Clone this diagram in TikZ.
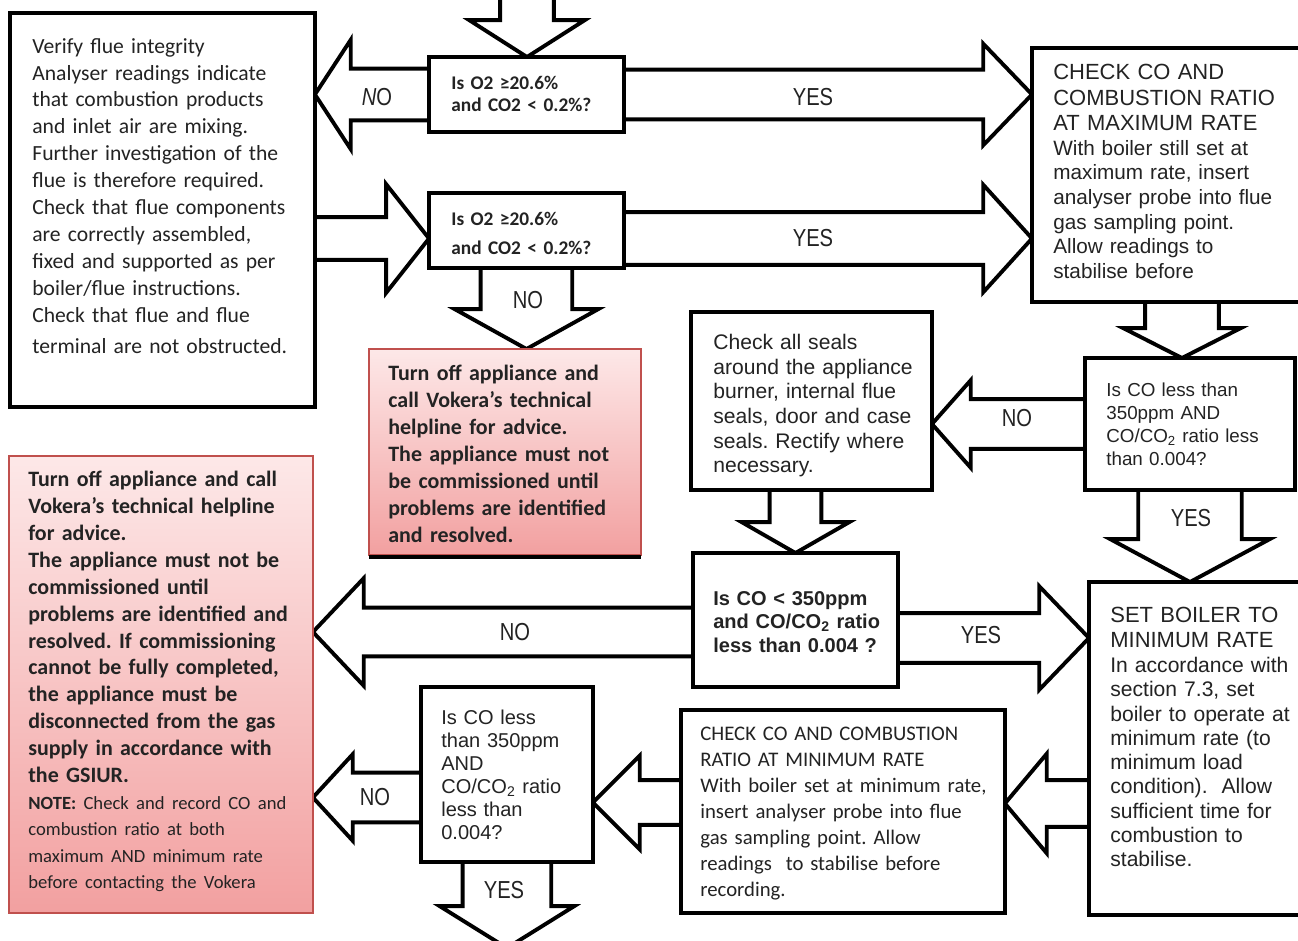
\documentclass[tikz,border=0pt]{standalone}
\usepackage{fontspec}
\setmainfont{Carlito}
\newfontfamily\arialf{Liberation Sans}
\newfontfamily\narrowf[FakeStretch=0.82]{Liberation Sans}
\usetikzlibrary{calc, backgrounds}
\definecolor{boxred}{RGB}{192,80,77}
\definecolor{pinktop}{RGB}{253,232,232}
\definecolor{pinkbot}{RGB}{242,160,160}
\definecolor{ink}{RGB}{35,35,35}
\frenchspacing

\newcommand{\pxl}{0.5669pt}

% block arrows: start, tip, shaft half width, head half width, head length (px)
\newcommand{\hblock}[5]{%
  \filldraw[blockarrow] let \p1=#1, \p2=#2, \n1={2*(\x2>\x1)-1},
      \p3=({\x2-(\n1)*#5*\pxl},\y1) in
    (\x1,{\y1+#3*\pxl}) -- (\x3,{\y1+#3*\pxl}) -- (\x3,{\y1+#4*\pxl}) -- (\x2,\y1)
    -- (\x3,{\y1-#4*\pxl}) -- (\x3,{\y1-#3*\pxl}) -- (\x1,{\y1-#3*\pxl});}
\newcommand{\vblock}[5]{%
  \filldraw[blockarrow] let \p1=#1, \p2=#2, \n1={2*(\y2>\y1)-1},
      \p3=(\x1,{\y2-(\n1)*#5*\pxl}) in
    ({\x1+#3*\pxl},\y1) -- ({\x1+#3*\pxl},\y3) -- ({\x1+#4*\pxl},\y3) -- (\x1,\y2)
    -- ({\x1-#4*\pxl},\y3) -- ({\x1-#3*\pxl},\y3) -- ({\x1-#3*\pxl},\y1);}

\begin{document}
\begin{tikzpicture}[x=0.02cm, y=-0.02cm,
  box/.style={rectangle, draw, line width=2.3pt, fill=white, inner sep=0pt, outer sep=0pt, anchor=north west},
  redbox/.style={rectangle, draw=boxred, line width=0.9pt, top color=pinktop, bottom color=pinkbot,
                 inner sep=0pt, outer sep=0pt, anchor=north west},
  txt/.style={anchor=north west, inner sep=0pt, align=left, text width=7cm, text=ink},
  lbl/.style={font=\narrowf\fontsize{14}{16}\selectfont, inner sep=0pt, text=ink},
  blockarrow/.style={draw, line width=2.2pt, fill=white, line join=miter}
]
\useasboundingbox (0,0) rectangle (1298,940);

\node[box, minimum width=6.1cm, minimum height=7.88cm] (verify) at (10,13) {};
\node[box, minimum width=3.9cm, minimum height=1.5cm] (q1) at (429,57) {};
\node[box, minimum width=3.9cm, minimum height=1.5cm] (q2) at (429,193) {};
\node[box, minimum width=6.0cm, minimum height=5.08cm] (maxb) at (1032,48) {};
\node[redbox, minimum width=5.44cm, minimum height=4.12cm] (red1) at (369,349) {};
\node[box, minimum width=4.82cm, minimum height=3.56cm] (seals) at (691,312) {};
\node[box, minimum width=4.2cm, minimum height=2.64cm] (q3) at (1085,358) {};
\node[box, minimum width=4.1cm, minimum height=2.68cm] (q4) at (693,553) {};
\node[box, minimum width=4.8cm, minimum height=6.66cm] (minb) at (1089,582) {};
\node[redbox, minimum width=6.08cm, minimum height=9.14cm] (red2) at (9,456) {};
\node[box, minimum width=6.48cm, minimum height=4.06cm] (chkmin) at (681,710) {};
\node[box, minimum width=3.44cm, minimum height=3.5cm] (q5) at (421,687) {};
\draw[line width=2.5pt] ([yshift=-1.3pt]red1.south west) -- ([yshift=-1.3pt]red1.south east);

\node[txt, font=\fontsize{12.3}{15.3}\selectfont] (verifyt) at (32,38)
  {Verify flue integrity\\Analyser readings indicate\\that combustion products\\and inlet air are mixing.\\
   Further investigation of the\\flue is therefore required.\\Check that flue components\\
   are correctly assembled,\\fixed and supported as per\\boiler/flue instructions.\\
   Check that flue and flue\\[2.8pt]terminal are not obstructed.};
\node[txt, font=\bfseries\fontsize{11}{12.5}\selectfont] (q1t) at (451,76) {Is O2 ≥20.6\%\\and CO2 < 0.2\%?};
\node[txt, font=\bfseries\fontsize{11}{16.2}\selectfont] (q2t) at (451,212) {Is O2 ≥20.6\%\\and CO2 < 0.2\%?};
\node[txt, font=\arialf\fontsize{12.5}{14.5}\selectfont] (maxh) at (1053,64)
  {CHECK CO AND\\COMBUSTION RATIO\\AT MAXIMUM RATE};
\node[txt, font=\arialf\fontsize{11.8}{14}\selectfont] (maxt) at (1053,140)
  {With boiler still set at\\maximum rate, insert\\analyser probe into flue\\gas sampling point.\\
   Allow readings to\\stabilise before};
\node[txt, font=\bfseries\fontsize{12.5}{15.3}\selectfont] (red1t) at (388,365)
  {Turn off appliance and\\call Vokera’s technical\\helpline for advice.\\The appliance must not\\
   be commissioned until\\problems are identified\\and resolved.};
\node[txt, font=\arialf\fontsize{12}{14}\selectfont] (sealst) at (713,334)
  {Check all seals\\around the appliance\\burner, internal flue\\seals, door and case\\
   seals. Rectify where\\necessary.};
\node[txt, font=\arialf\fontsize{10.7}{13}\selectfont] (q3t) at (1106,383)
  {Is CO less than\\350ppm AND\\CO/CO\textsubscript{2} ratio less\\than 0.004?};
\node[txt, font=\arialf\bfseries\fontsize{11.4}{13.3}\selectfont] (q4t) at (713,591)
  {Is CO < 350ppm\\and CO/CO\textsubscript{2} ratio\\less than 0.004 ?};
\node[txt, font=\bfseries\fontsize{12.5}{15.3}\selectfont] (red2t) at (28,471)
  {Turn off appliance and call\\Vokera’s technical helpline\\for advice.\\The appliance must not be\\
   commissioned until\\problems are identified and\\resolved. If commissioning\\
   cannot be fully completed,\\the appliance must be\\disconnected from the gas\\
   supply in accordance with\\the GSIUR.\\
   \fontsize{10.6}{15.1}\selectfont NOTE: \mdseries Check and record CO and\\combustion ratio at both\\
   maximum AND minimum rate\\before contacting the Vokera};
\node[txt, font=\arialf\fontsize{11.4}{13}\selectfont] (q5t) at (441,710)
  {Is CO less\\than 350ppm\\AND\\CO/CO\textsubscript{2} ratio\\less than\\0.004?};
\node[txt, font=\fontsize{11.8}{14.8}\selectfont] (chkt) at (700,727)
  {CHECK CO AND COMBUSTION\\RATIO AT MINIMUM RATE\\With boiler set at minimum rate,\\
   insert analyser probe into flue\\gas sampling point. Allow\\readings~ to stabilise before\\recording.};
\node[txt, font=\arialf\fontsize{12.5}{14.2}\selectfont] (minh) at (1110,607)
  {SET BOILER TO\\MINIMUM RATE};
\node[txt, font=\arialf\fontsize{12}{13.8}\selectfont] (mint) at (1110,657)
  {In accordance with\\section 7.3, set\\boiler to operate at\\minimum rate (to\\minimum load\\
   condition).~ Allow\\sufficient time for\\combustion to\\stabilise.};

\begin{scope}[on background layer]
\coordinate (topin) at (527,-12);
\coordinate (botout) at (505,948);
\vblock{(topin)}{(q1.north)}{27}{58}{37}
\hblock{(q1.west)}{(q1.west -| verify.east)}{26}{55}{36}
\hblock{($(verify.east |- q2.west)+(0,8)$)}{($(q2.west)+(0,8)$)}{21.5}{54.5}{43}
\hblock{(q1.east)}{(q1.east -| maxb.west)}{25}{51}{49}
\hblock{($(q2.east)+(0,8)$)}{($(q2.east -| maxb.west)+(0,8)$)}{26.5}{54}{49}
\vblock{(q2.south)}{(q2.south |- red1.north)}{46}{72}{40}
\vblock{(maxb.south)}{(maxb.south |- q3.north)}{37}{59}{30}
\hblock{(q3.west)}{(q3.west -| seals.east)}{25}{44}{39}
\vblock{(q4.north |- seals.south)}{(q4.north)}{26}{54}{31}
\vblock{(q3.south)}{(q3.south |- minb.north)}{52}{80}{43}
\hblock{($(q4.east)+(0,18)$)}{($(q4.east -| minb.west)+(0,18)$)}{25}{52}{50}
\hblock{($(q4.west)+(0,12)$)}{($(q4.west -| red2.east)+(0,12)$)}{24.5}{54}{51}
\hblock{($(chkmin.east -| minb.west)+(0,-8)$)}{($(chkmin.east)+(0,-8)$)}{23.5}{50}{42}
\hblock{($(chkmin.west)+(0,-9)$)}{($(chkmin.west -| q5.east)+(0,-9)$)}{22.5}{47}{47}
\hblock{($(q5.west)+(0,23)$)}{($(q5.west -| red2.east)+(0,23)$)}{25}{43.5}{40}
\vblock{(q5.south)}{(botout)}{44.5}{67.5}{42}
\end{scope}

\node[lbl] (no1) at (377,97) {\textit{N}O};
\node[lbl] (yes1) at (813,97) {YES};
\node[lbl] (yes2) at (813,238) {YES};
\node[lbl] (no2) at (528,300) {NO};
\node[lbl] (no3) at (1017,418) {NO};
\node[lbl] (yes3) at (1191,518) {YES};
\node[lbl] (yes4) at (981,635) {YES};
\node[lbl] (no4) at (515,632) {NO};
\node[lbl] (no5) at (375,797) {NO};
\node[lbl] (yes5) at (504,890) {YES};
\end{tikzpicture}
\end{document}
